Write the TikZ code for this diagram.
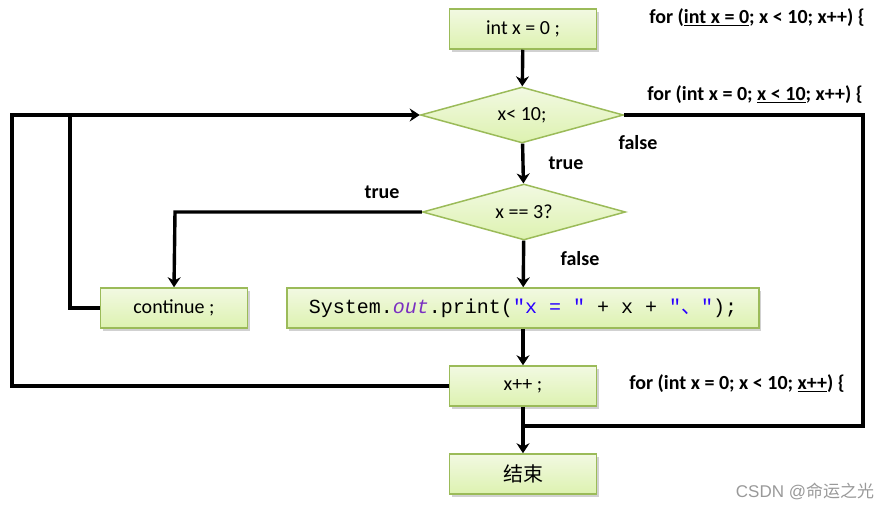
\documentclass[tikz,border=0pt]{standalone}
\usepackage{fontspec}
\setmainfont{Carlito}
\setmonofont{Liberation Mono}
\newfontfamily\cjk{Noto Sans CJK SC}
\usetikzlibrary{shapes.geometric,arrows.meta,shadows}
\definecolor{boxtop}{HTML}{F2F9E2}
\definecolor{boxbot}{HTML}{DDF2B0}
\definecolor{boxline}{HTML}{9BBB59}
\definecolor{kwpurple}{HTML}{7A2FC0}
\definecolor{strblue}{HTML}{2A00FF}
\tikzset{
  pbox/.style={draw=boxline, line width=1.5pt, top color=boxtop, bottom color=boxbot,
    minimum width=147pt, minimum height=40pt, inner sep=0pt, font=\fontsize{20}{22}\selectfont,
    drop shadow={shadow xshift=2pt, shadow yshift=-3pt, fill=black!30, opacity=.6}},
  pdia/.style={diamond, aspect=3.6, draw=boxline, line width=1.5pt, top color=boxtop, bottom color=boxbot,
    minimum width=203pt, minimum height=56pt, inner sep=0pt, font=\fontsize{20}{22}\selectfont},
  conn/.style={line width=3.4pt, draw=black},
  arr/.style={conn, -{Stealth[length=10pt, width=13pt]}},
  lbl/.style={font=\bfseries\fontsize{20}{22}\selectfont},
  note/.style={font=\bfseries\fontsize{20}{22}\selectfont, anchor=center},
}
\begin{document}
\begin{tikzpicture}[x=1pt, y=-1pt]
\useasboundingbox (0,0) rectangle (889,509);
\node[pbox] (init) at (523,29) {int x = 0 ;};
\node[pdia] (d1) at (522,115) {x< 10;};
\node[pdia] (d2) at (524,212) {x == 3?};
\node[pbox] (cont) at (174,308) {continue ;};
\node[pbox, minimum width=472pt] (sys) at (523,308) {\ttfamily\fontsize{20}{22}\selectfont System.{\color{kwpurple}\itshape out}.print({\color{strblue}"x = "} + x + {\color{strblue}"{\cjk 、}"});};
\node[pbox] (inc) at (523,386) {x++ ;};
\node[pbox] (endn) at (523,474) {\cjk\fontsize{20}{22}\selectfont 结束};

\coordinate (lt) at (12,115);
\coordinate (lb) at (12,386);
\coordinate (ct) at (70,115);
\coordinate (cb) at (70,308);
\coordinate (rt) at (863,115);
\coordinate (rb) at (863,426);
\coordinate (rj) at (523,426);
\coordinate (tc) at (175,212);

\draw[arr] (init) -- (d1);
\draw[arr] (inc.west) -- (lb) -- (lt) -- (d1.west);
\draw[conn] (cont.west) -- (cb) -- (ct);
\draw[arr] (d1) -- (d2);
\draw[arr] (d2.west) -- (tc) -- (cont.north);
\draw[arr] (d2) -- (sys);
\draw[arr] (sys) -- (inc);
\draw[conn] (d1.east) -- (rt) -- (rb) -- (rj);
\draw[arr] (inc) -- (endn);

\node[lbl] (t1) at (566,163) {true};
\node[lbl] (f1) at (638,143) {false};
\node[lbl] (t2) at (382,192) {true};
\node[lbl] (f2) at (580,259) {false};

\node[note] (n1) at (757,18) {for (\underline{int x = 0}; x < 10; x++) \{};
\node[note] (n2) at (755,95) {for (int x = 0; \underline{x < 10}; x++) \{};
\node[note] (n3) at (737,384) {for (int x = 0; x < 10; \underline{x++}) \{};

\node[text=black!40, font=\fontsize{17}{19}\selectfont] (wm) at (805,491) {\fontspec{Liberation Sans}CSDN @{\cjk 命运之光}};
\end{tikzpicture}
\end{document}
